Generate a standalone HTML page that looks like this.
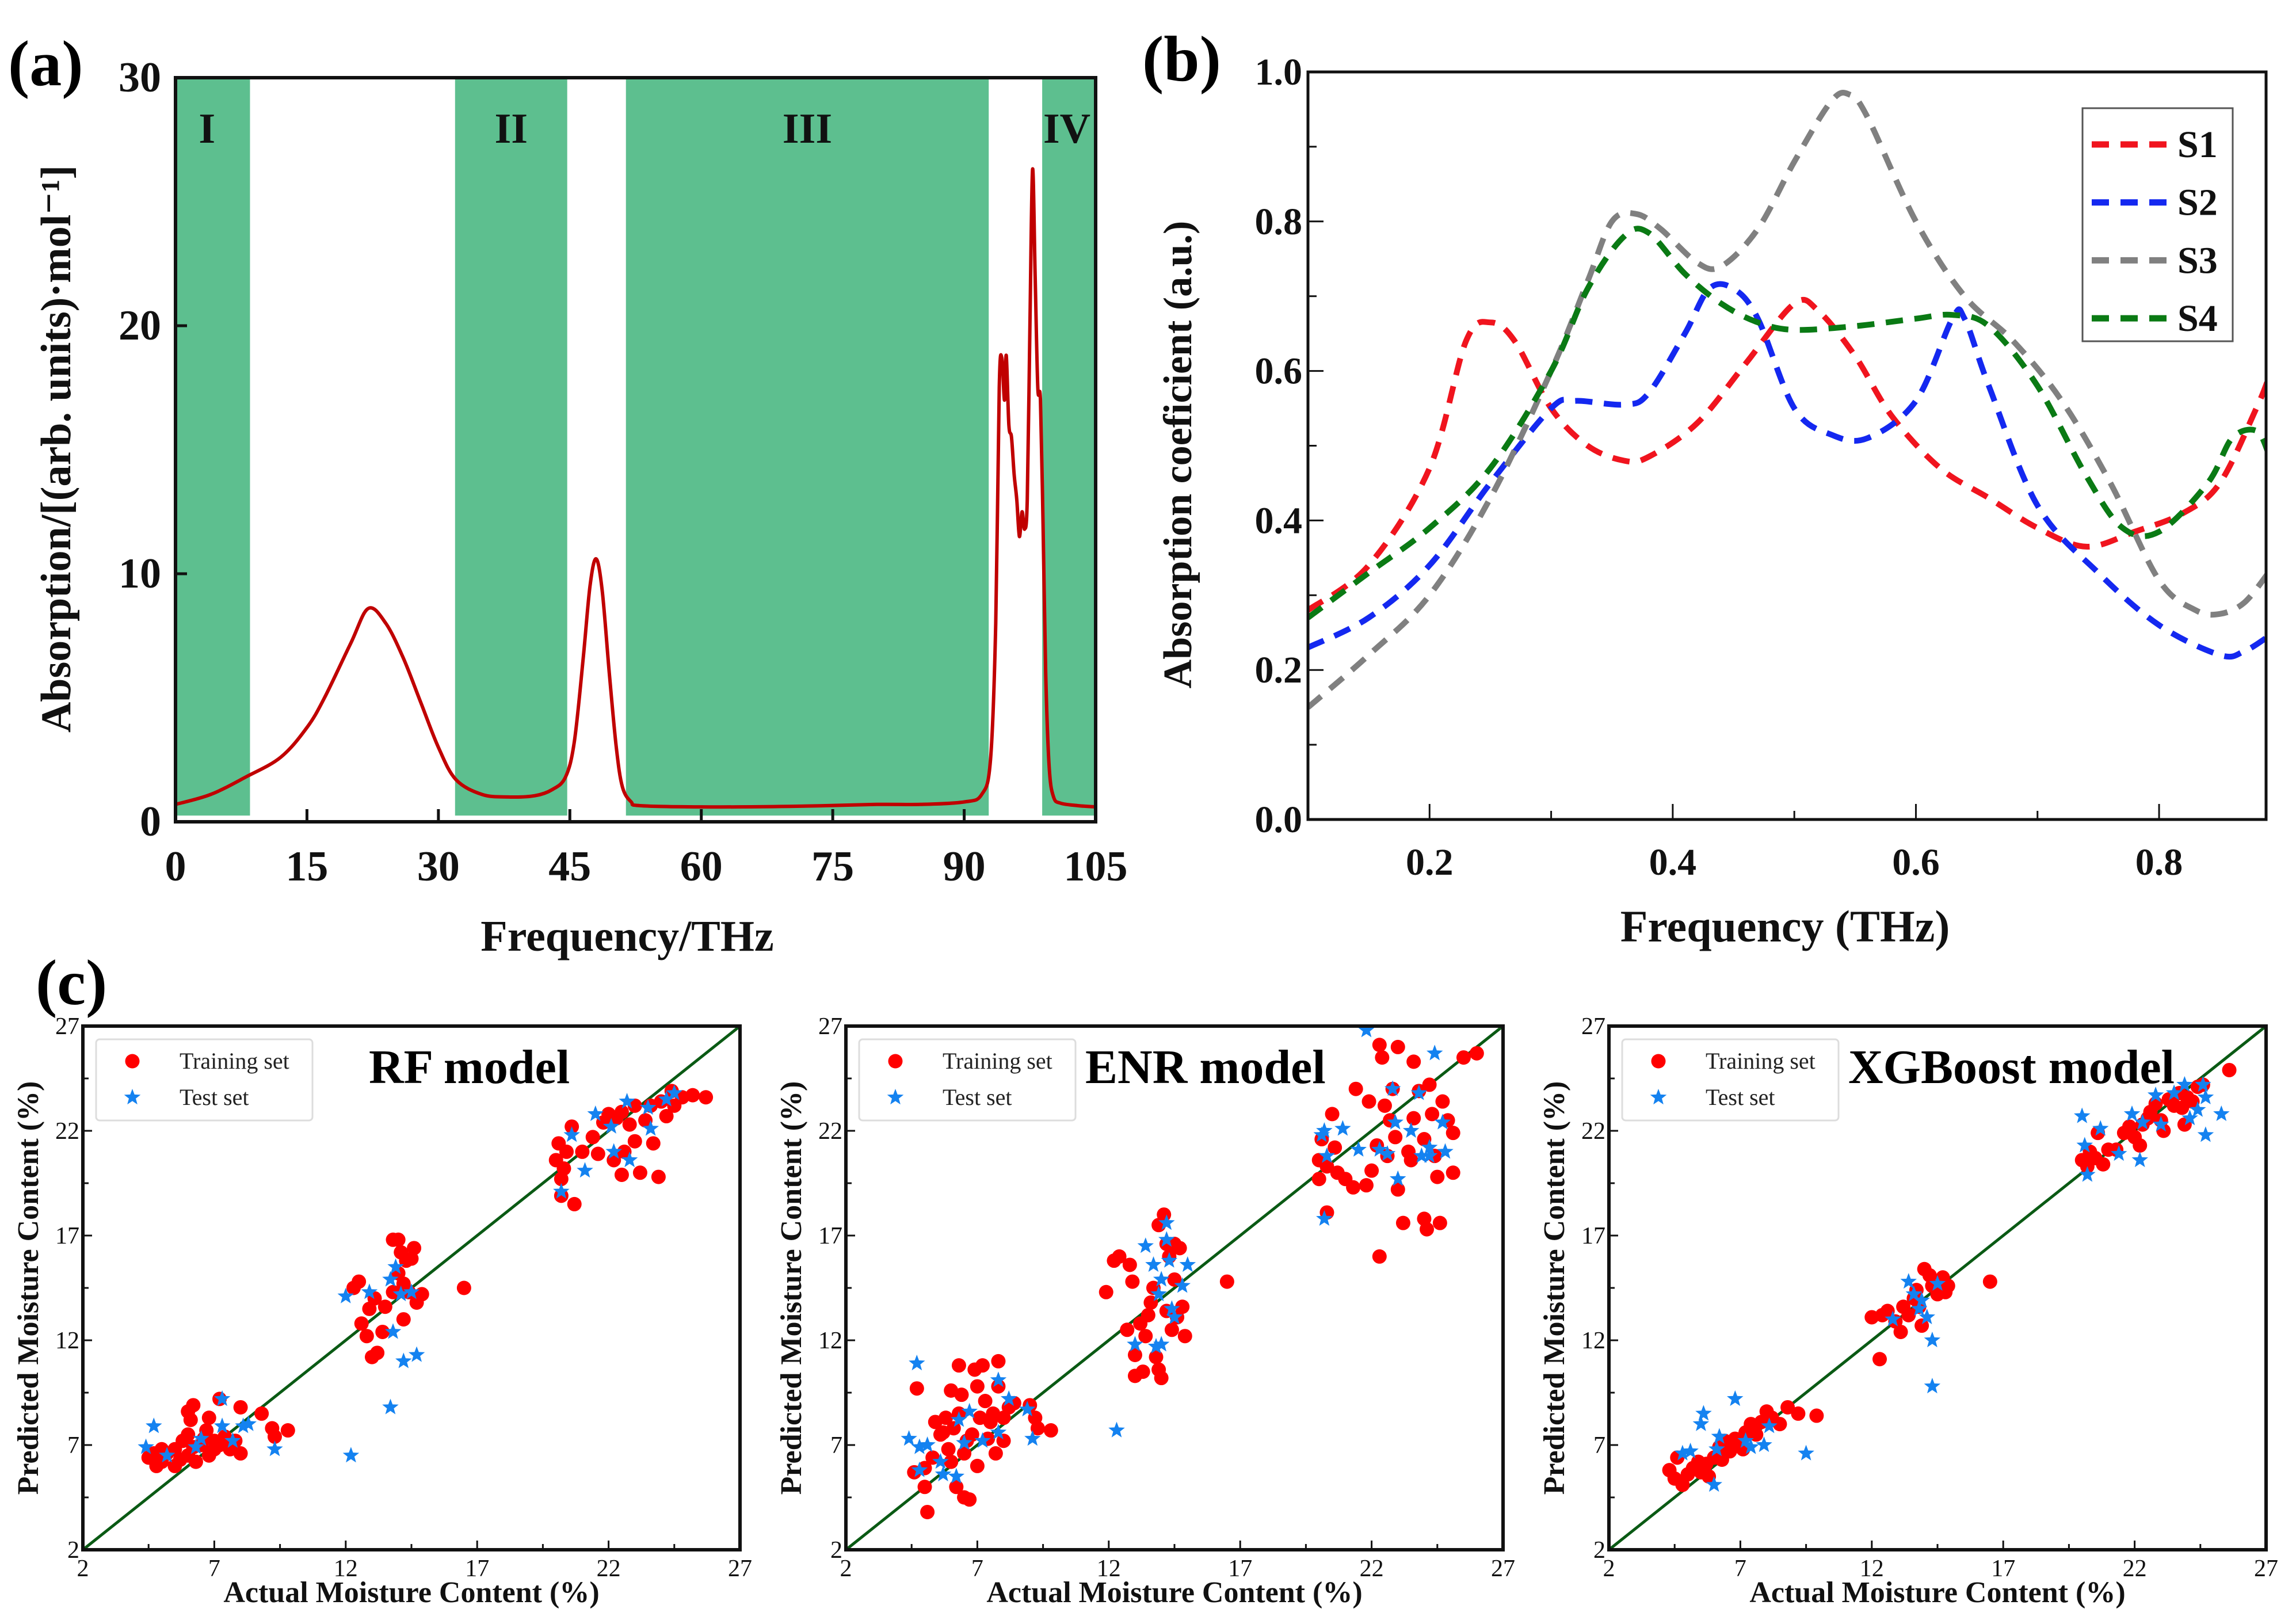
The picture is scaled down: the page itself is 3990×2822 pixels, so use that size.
<!DOCTYPE html>
<html><head><meta charset="utf-8">
<style>
html,body{margin:0;padding:0;background:#fff;}
svg{display:block;font-family:"Liberation Serif","DejaVu Serif",serif;}
svg text{font-family:"Liberation Serif","DejaVu Serif",serif;}
</style></head>
<body>
<svg id="fig" width="3990" height="2822" viewBox="0 0 3990 2822" xmlns="http://www.w3.org/2000/svg" font-family="Liberation Serif, serif">
<g id="pa"></g>
<g id="pb"></g>
<g id="pc"></g>
</svg>
<script>
// ---------- Panel (a) data ----------
const aFreq = [0,4,8,12,15,17,20,22,24,26,28,30,32,35,38,41,43,44.5,45.5,46.5,47.3,48,48.7,49.5,50.3,51,52,53,60,70,80,85,90,92,93,93.6,94,94.3,94.6,94.8,95.1,95.4,95.7,96,96.3,96.6,96.9,97.2,97.5,97.8,98.1,98.4,98.7,99,99.3,99.7,100.2,101,103,105];
const aAbs  = [0.7,1.1,1.8,2.6,3.8,5,7.2,8.6,8,6.6,4.8,3,1.7,1.1,1.0,1.05,1.3,1.8,3.2,6.5,9.5,10.6,9.3,6,3,1.4,0.8,0.65,0.6,0.62,0.7,0.7,0.8,1.1,2.5,8,17.5,18.7,17,18.8,16,15.5,14,13,11.5,12.5,11.8,13,20,26.3,22,17.5,17,12,6,2.2,1.0,0.75,0.65,0.6];
const aBandStart = [0,31.9,51.4,98.9];
const aBandEnd   = [8.5,44.7,92.8,105];
const aBandLabels = ["I","II","III","IV"];
const aXTicks = [0,15,30,45,60,75,90,105];
const aYTicks = [0,10,20,30];

// ---------- Panel (b) data ----------
const bS1x = [0.1,0.15,0.2,0.23,0.25,0.27,0.3,0.33,0.36,0.38,0.42,0.46,0.5,0.52,0.55,0.58,0.62,0.66,0.7,0.74,0.78,0.82,0.85,0.88,0.89];
const bS1y = [0.28,0.34,0.47,0.64,0.665,0.64,0.55,0.5,0.48,0.485,0.53,0.61,0.69,0.68,0.62,0.54,0.47,0.43,0.39,0.365,0.385,0.41,0.45,0.55,0.59];
const bS2x = [0.1,0.15,0.2,0.25,0.3,0.32,0.36,0.38,0.41,0.43,0.45,0.47,0.5,0.53,0.56,0.6,0.63,0.64,0.66,0.7,0.75,0.8,0.85,0.87,0.89];
const bS2y = [0.23,0.27,0.34,0.45,0.55,0.56,0.555,0.57,0.65,0.71,0.71,0.67,0.55,0.515,0.51,0.56,0.67,0.67,0.58,0.42,0.33,0.26,0.22,0.225,0.245];
const bS3x = [0.1,0.15,0.2,0.25,0.3,0.33,0.35,0.37,0.39,0.42,0.44,0.47,0.5,0.53,0.545,0.56,0.6,0.64,0.68,0.72,0.76,0.8,0.83,0.85,0.87,0.89];
const bS3y = [0.15,0.22,0.3,0.43,0.6,0.72,0.8,0.81,0.79,0.745,0.74,0.79,0.88,0.96,0.97,0.94,0.8,0.7,0.64,0.56,0.45,0.32,0.28,0.275,0.29,0.33];
const bS4x = [0.1,0.15,0.2,0.25,0.3,0.33,0.36,0.38,0.41,0.44,0.47,0.5,0.55,0.6,0.63,0.66,0.7,0.74,0.77,0.8,0.84,0.86,0.88,0.89];
const bS4y = [0.27,0.33,0.39,0.47,0.6,0.71,0.78,0.785,0.73,0.69,0.665,0.655,0.66,0.67,0.675,0.66,0.58,0.46,0.39,0.385,0.45,0.51,0.52,0.49];
const bSeriesNames = ["S1","S2","S3","S4"];
const bXTicks = [0.2,0.4,0.6,0.8];
const bYTicks = [0.0,0.2,0.4,0.6,0.8,1.0];

// ---------- Panel (c) data: [actual, predicted] ----------
const rfTrain = [[4.5,6.4],[4.8,6],[5,6.2],[5.2,6.6],[5.5,6.8],[5.5,6],[5.8,7.2],[6,6.5],[6,7.5],[6.2,6.9],[6.3,6.2],[6.5,7],[6.6,7.3],[6.8,6.5],[7,6.8],[7,7.2],[7.2,7],[7.4,7.4],[7.6,6.8],[7.8,7.2],[8,6.6],[6,8.6],[6.2,8.9],[6.1,8.2],[6.8,8.3],[7.2,9.2],[8,8.8],[8.8,8.5],[9.2,7.8],[9.3,7.4],[9.8,7.7],[6.7,7.7],[5,6.8],[4.7,6.6],[5.7,6.3],
[12.3,14.5],[12.5,14.8],[12.6,12.8],[12.8,12.2],[13,11.2],[13.2,11.4],[12.9,13.5],[13.1,14],[13.5,13.6],[13.4,12.4],[13.8,16.8],[14,16.8],[14.1,16.2],[14.3,15.8],[14.5,15.9],[14.6,16.4],[14,15.2],[14.2,13],[14.4,14.3],[14.7,13.8],[14.9,14.2],[13.8,14.3],[14.2,14.7],[16.5,14.5],
[20.1,21.4],[20,20.6],[20.3,20.2],[20.4,21],[20.2,19.7],[20.2,18.9],[20.7,18.5],[20.6,22.2],[21,21],[21.4,21.7],[21.6,20.9],[21.8,22.4],[22,22.8],[22.3,22.6],[22.2,20.6],[22.5,19.9],[22.6,21],[22.8,22.3],[23,21.5],[23.2,20],[23.4,22.5],[23.6,23.2],[23.7,21.4],[23.9,19.8],[24,23.4],[24.2,22.7],[24.5,23.2],[24.8,23.6],[25.2,23.7],[25.7,23.6],[23,23.2],[22.5,22.9],[24.4,23.9]];
const rfTest = [[4.4,6.9],[4.7,7.9],[5.2,6.5],[6.3,6.9],[6.5,7.3],[7.3,9.2],[7.3,7.9],[7.7,7.2],[8.1,7.9],[8.3,8.0],[9.3,6.8],[12,14.1],[12.2,6.5],[12.9,14.3],[13.7,14.9],[13.9,15.5],[14.1,14.2],[13.8,12.4],[13.7,8.8],[14.2,11],[14.7,11.3],[14.5,14.3],[20.2,19.1],[20.6,21.8],[21.1,20.1],[21.5,22.8],[22.1,22.2],[22.2,21],[22.7,23.4],[22.8,20.6],[23.6,22.1],[23.5,23.1],[24.2,23.5],[24.5,23.8]];
const enrTrain = [[4.6,5.7],[4.7,9.7],[5,5.9],[5,5],[5.1,3.8],[5.3,6.4],[5.4,8.1],[5.6,7.5],[5.8,8.3],[5.9,6.8],[6,9.6],[6,6.2],[6.1,7.8],[6.2,5],[6.3,10.8],[6.3,8.5],[6.4,9.4],[6.5,4.5],[6.5,6.6],[6.7,4.4],[6.8,7.5],[6.9,10.6],[7,9.8],[7,6],[7.1,8.3],[7.2,10.8],[7.3,9.1],[7.4,7.3],[7.6,8.5],[7.7,6.6],[7.8,9.8],[7.8,11],[8,8.3],[8,7.2],[8.2,8.8],[8.4,9],[9,8.9],[9.2,8.3],[9.3,7.8],[9.8,7.7],[5.7,7.6],[6.6,7.2],[7.5,8.1],
[11.9,14.3],[12.2,15.8],[12.4,16],[12.8,15.6],[12.9,14.8],[12.7,12.5],[13,11.3],[13,10.3],[13.3,10.5],[13.2,12.8],[13.5,13.2],[13.6,13.8],[13.4,12.2],[13.8,11.2],[13.9,10.6],[14,10.2],[13.9,17.5],[14.1,18],[14.2,16.6],[14.3,16],[14.5,16.6],[14.7,16.4],[14.5,14.9],[14.2,13.4],[14.6,13.1],[14.8,13.6],[14.9,12.2],[14.4,12.5],[13.7,14.5],[16.5,14.8],
[20,19.7],[20,20.6],[20.1,21.6],[20.3,20.3],[20.3,18.1],[20.5,22.8],[20.6,21.2],[20.7,20],[21,19.7],[21.3,19.3],[21.4,24],[21.8,19.4],[21.9,23.4],[22,20.1],[22.2,21.3],[22.3,16],[22.3,26.1],[22.4,25.5],[22.5,23.2],[22.7,22.5],[22.8,24],[22.9,21.7],[23,19.2],[23,26],[23.2,17.6],[23.4,21],[23.6,22.6],[23.6,25.3],[23.8,23.9],[24,17.8],[24,21.6],[24.1,17.3],[24.2,24.2],[24.3,22.8],[24.4,20.8],[24.5,19.8],[24.6,17.6],[24.7,23.4],[24.9,22.5],[25.1,21.9],[25.1,20],[25.5,25.5],[26,25.7],[23.5,20.6],[22.6,20.8]];
const enrTest = [[4.4,7.3],[4.7,10.9],[4.8,5.8],[4.8,6.9],[5.1,7],[5.6,6.2],[5.7,5.6],[6.2,5.5],[6.3,8.2],[6.7,8.6],[6.5,7.1],[7.2,7.2],[7.8,10.1],[8.2,9.2],[8.9,8.7],[9.1,7.3],[7.8,7.6],[12.3,7.7],[13,11.8],[13.4,16.5],[13.7,15.6],[13.8,11.7],[14,11.8],[14,14.9],[14.2,17.6],[14.2,16.8],[14.3,15.8],[14.4,13.5],[14.5,13.1],[14.8,14.6],[15,15.6],[13.9,14.2],[20.1,21.8],[20.2,22],[20.3,20.8],[20.2,17.8],[20.9,22.1],[21.5,21.1],[21.8,26.8],[22.3,21.1],[22.6,20.9],[22.8,24],[22.9,22.4],[23,19.7],[23.5,22],[23.8,23.8],[23.9,20.8],[24.2,20.8],[24.2,21.2],[24.4,25.7],[24.7,22.4],[24.8,21]];
const xgbTrain = [[4.3,5.8],[4.5,5.4],[4.6,6.4],[4.8,5.1],[5,5.6],[5.2,5.9],[5.5,5.7],[5.7,6.1],[5.8,5.5],[6,6.4],[6.2,6.9],[6.4,7.2],[6.6,6.7],[6.8,7.3],[7,7],[7.2,7.6],[7.4,8],[7.6,7.5],[7.8,8.1],[8,8.6],[8.2,8.3],[8.5,8],[8.8,8.8],[9.2,8.5],[9.9,8.4],[5.4,6.2],[6.3,6.3],[7.1,6.8],
[12,13.1],[12.3,11.1],[12.4,13.2],[12.6,13.4],[12.9,12.9],[13.1,12.4],[13.2,13.6],[13.4,13.2],[13.6,14],[13.8,13.6],[13.9,12.7],[14,15.4],[14.2,15.1],[14.3,14.6],[14.5,14.2],[14.7,15],[14.8,14.3],[14.9,14.6],[13.7,14.4],[16.5,14.8],
[20,20.6],[20.2,20.3],[20.3,21],[20.5,20.7],[20.6,21.9],[20.8,20.4],[21,21.1],[21.3,21.1],[21.6,21.9],[21.8,22.2],[22,21.7],[22.2,21.3],[22.3,22.3],[22.6,22.9],[22.8,23.3],[23,22.5],[23.1,22],[23.3,23.5],[23.5,23.2],[23.7,23.8],[23.9,22.3],[24,23.6],[24.2,23.4],[24.4,24.1],[24.6,24.2],[25.6,24.9],[22.5,22.6],[23.8,23.1]];
const xgbTest = [[4.8,6.6],[5.1,6.7],[5.5,8],[5.6,8.5],[6,5.1],[6.1,6.8],[6.2,7.4],[6.8,9.2],[7.2,7.2],[7.4,6.9],[7.9,7],[8.1,7.9],[9.5,6.6],[12.8,13],[13.4,14.8],[13.6,14.2],[13.9,13.9],[14.1,13.1],[14.3,12],[14.3,9.8],[14.5,14.7],[13.8,13.5],[20,22.7],[20.1,21.3],[20.2,19.9],[20.7,22.1],[21.4,20.9],[21.9,22.8],[22.2,20.6],[22.3,22.4],[22.8,23.7],[23,22.3],[23.5,23.8],[23.9,24.2],[24.1,22.6],[24.4,23],[24.7,23.6],[24.7,21.8],[25.3,22.8],[24.6,24.2]];
const cTicks = [2,7,12,17,22,27];
const cTitles = ["RF model","ENR model","XGBoost model"];

const NS = "http://www.w3.org/2000/svg";
const FF = "Liberation Serif, DejaVu Serif, serif";
function mk(parent, tag, attrs, txt){
  const e = document.createElementNS(NS, tag);
  for (const k in attrs) e.setAttribute(k, attrs[k]);
  if (tag === 'text') e.setAttribute('font-family', FF);
  if (txt !== undefined) e.textContent = txt;
  parent.appendChild(e);
  return e;
}
function lin(d0,d1,r0,r1){ return v => r0 + (v-d0)/(d1-d0)*(r1-r0); }
function smoothPath(px){
  let d = "M"+px[0][0].toFixed(1)+","+px[0][1].toFixed(1);
  for (let i=0;i<px.length-1;i++){
    const p0=px[Math.max(0,i-1)], p1=px[i], p2=px[i+1], p3=px[Math.min(px.length-1,i+2)];
    const c1=[p1[0]+(p2[0]-p0[0])/6, p1[1]+(p2[1]-p0[1])/6];
    const c2=[p2[0]-(p3[0]-p1[0])/6, p2[1]-(p3[1]-p1[1])/6];
    d += " C"+c1[0].toFixed(1)+","+c1[1].toFixed(1)+" "+c2[0].toFixed(1)+","+c2[1].toFixed(1)+" "+p2[0].toFixed(1)+","+p2[1].toFixed(1);
  }
  return d;
}

// ===== Panel A =====
(function(){
  const g = document.getElementById('pa');
  const L=305,R=1904,T=135,B=1428;
  const x = lin(0,105,L,R), y = lin(0,30,B,T);
  for (let i=0;i<aBandStart.length;i++){
    const r = mk(g,'rect',{x:x(aBandStart[i]),y:T,width:x(aBandEnd[i])-x(aBandStart[i]),height:y(0.25)-T,fill:'#5dbf8f'});
    
    
    const t = mk(g,'text',{x:(x(aBandStart[i])+x(Math.min(aBandEnd[i],104)))/2+(i==3?4:(i==0?-10:0)),y:248,'font-size':74,'font-weight':'bold','text-anchor':'middle',fill:'#111'},aBandLabels[i]);
    
    
  }
  const pts = aFreq.map((f,i)=>[x(f),y(aAbs[i])]);
  const line = mk(g,'path',{d:smoothPath(pts),fill:'none',stroke:'#c00000','stroke-width':6,'stroke-linejoin':'round'});
  
  
  const fr = mk(g,'rect',{x:L,y:T,width:R-L,height:B-T,fill:'none',stroke:'#111','stroke-width':6});
  
  
  aXTicks.forEach(v=>{
    mk(g,'line',{x1:x(v),x2:x(v),y1:B,y2:B-22,stroke:'#111','stroke-width':5});
    const t = mk(g,'text',{x:x(v),y:1530,'font-size':74,'text-anchor':'middle','font-weight':'bold',fill:'#111'},String(v));
    
    
  });
  aYTicks.forEach(v=>{
    mk(g,'line',{x1:L,x2:L+20,y1:y(v),y2:y(v),stroke:'#111','stroke-width':5});
    const t = mk(g,'text',{x:L-25,y:y(v)+24,'font-size':74,'text-anchor':'end','font-weight':'bold',fill:'#111'},String(v));
    
    
  });
  const xt = mk(g,'text',{x:1090,y:1652,'font-size':76,'text-anchor':'middle','font-weight':'bold',fill:'#111'},'Frequency/THz');
  
  
  const yt = mk(g,'text',{x:0,y:0,'font-size':74,'text-anchor':'middle','font-weight':'bold',fill:'#111',transform:'translate(122,780) rotate(-90)'},'Absorption/[(arb. units)·mol⁻¹]');
  
  
  const pl = mk(g,'text',{x:14,y:148,'font-size':112,'font-weight':'bold',fill:'#000'},'(a)');
  
  
})();

// ===== Panel B =====
(function(){
  const g = document.getElementById('pb');
  const L=2273,R=3938,T=125,B=1424;
  const x = lin(0.1,0.888,L,R), y = lin(0,1,B,T);
  const cols = ['#f0141e','#1428f0','#808080','#0a7a14'];
  const xs=[bS1x,bS2x,bS3x,bS4x], ys=[bS1y,bS2y,bS3y,bS4y];
  const clip = mk(g,'clipPath',{id:'clipb'}); mk(clip,'rect',{x:L,y:T,width:R-L,height:B-T});
  xs.forEach((xa,k)=>{
    const pts = xa.map((v,i)=>[x(v),y(ys[k][i])]);
    const p = mk(g,'path',{d:smoothPath(pts),fill:'none',stroke:cols[k],'stroke-width':10,'stroke-dasharray':'30 20','clip-path':'url(#clipb)'});
    
    
  });
  const fr = mk(g,'rect',{x:L,y:T,width:R-L,height:B-T,fill:'none',stroke:'#111','stroke-width':5});
  
  
  [0.2,0.3,0.4,0.5,0.6,0.7,0.8].forEach((v,i)=>{
    mk(g,'line',{x1:x(v),x2:x(v),y1:B,y2:B-(i%2?15:27),stroke:'#111','stroke-width':3});
  });
  [0.1,0.2,0.3,0.4,0.5,0.6,0.7,0.8,0.9].forEach((v,i)=>{
    mk(g,'line',{x1:L,x2:L+(i%2?27:15),y1:y(v),y2:y(v),stroke:'#111','stroke-width':3});
  });
  bXTicks.forEach(v=>{
    const t = mk(g,'text',{x:x(v),y:1520,'font-size':66,'text-anchor':'middle','font-weight':'bold',fill:'#111'},v.toFixed(1));
    
    
  });
  bYTicks.forEach(v=>{
    const t = mk(g,'text',{x:L-10,y:y(v)+22,'font-size':66,'text-anchor':'end','font-weight':'bold',fill:'#111'},v.toFixed(1));
    
    
  });
  const xt = mk(g,'text',{x:3102,y:1636,'font-size':78,'text-anchor':'middle','font-weight':'bold',fill:'#111'},'Frequency (THz)');
  
  
  const yt = mk(g,'text',{x:0,y:0,'font-size':70,'text-anchor':'middle','font-weight':'bold',fill:'#111',transform:'translate(2070,790) rotate(-90)'},'Absorption coeficient (a.u.)');
  
  
  const lg = mk(g,'g',{});
  
  
  mk(lg,'rect',{x:3619,y:188,width:261,height:405,fill:'#fff',stroke:'#555','stroke-width':3});
  bSeriesNames.forEach((n,k)=>{
    const yy = 251+k*100.7;
    const e = mk(lg,'g',{});
    
    
    mk(e,'line',{x1:3635,x2:3769,y1:yy,y2:yy,stroke:cols[k],'stroke-width':11,'stroke-dasharray':'30 20'});
    mk(e,'text',{x:3784,y:yy+22,'font-size':66,'font-weight':'bold',fill:'#111'},n);
  });
  const pl = mk(g,'text',{x:1985,y:140,'font-size':112,'font-weight':'bold',fill:'#000'},'(b)');
  
  
})();

// ===== Panel C =====
(function(){
  const g = document.getElementById('pc');
  const lefts=[144,1470,2796], W=1142, T=1783, B=2693;
  const trains=[rfTrain,enrTrain,xgbTrain], tests=[rfTest,enrTest,xgbTest];
  const keys=['rf','enr','xgboost'];
  function star(cx,cy,r){
    let d='';
    for(let i=0;i<10;i++){
      const a=-Math.PI/2+i*Math.PI/5, rr=i%2?r*0.42:r;
      d+=(i?'L':'M')+(cx+rr*Math.cos(a)).toFixed(1)+','+(cy+rr*Math.sin(a)).toFixed(1);
    }
    return d+'Z';
  }
  lefts.forEach((L,k)=>{
    const R=L+W;
    const sub = mk(g,'g',{});
    
    
    const x=lin(2,27,L,R), y=lin(2,27,B,T);
    const cid='clipc'+k;
    const cp=mk(sub,'clipPath',{id:cid}); mk(cp,'rect',{x:L,y:T,width:W,height:B-T});
    const dl = mk(sub,'line',{x1:x(2),y1:y(2),x2:x(27),y2:y(27),stroke:'#0a5a14','stroke-width':5});
    
    
    trains[k].forEach(p=>{
      const c = mk(sub,'circle',{cx:x(p[0]),cy:y(p[1]),r:12.5,fill:'#ff0000','clip-path':'url(#'+cid+')'});
      
      
    });
    tests[k].forEach(p=>{
      const s = mk(sub,'path',{d:star(x(p[0]),y(p[1]),15),fill:'#1482f0','clip-path':'url(#'+cid+')'});
      
      
    });
    const fr = mk(sub,'rect',{x:L,y:T,width:W,height:B-T,fill:'none',stroke:'#111','stroke-width':6});
    
    
    [4.5,7,9.5,12,14.5,17,19.5,22,24.5].forEach((v,i)=>{
      mk(sub,'line',{x1:x(v),x2:x(v),y1:B,y2:B-(i%2?16:10),stroke:'#111','stroke-width':3});
      mk(sub,'line',{x1:L,x2:L+(i%2?16:10),y1:y(v),y2:y(v),stroke:'#111','stroke-width':3});
    });
    cTicks.forEach(v=>{
      const tx = mk(sub,'text',{x:x(v),y:B+46,'font-size':42,'text-anchor':'middle',fill:'#111'},String(v));
      
      
      const ty = mk(sub,'text',{x:L-6,y:y(v)+14,'font-size':42,'text-anchor':'end',fill:'#111'},String(v));
      
      
    });
    const xt = mk(sub,'text',{x:L+W/2,y:2784,'font-size':52,'text-anchor':'middle','font-weight':'bold',fill:'#111'},'Actual Moisture Content (%)');
    
    
    const yt = mk(sub,'text',{x:0,y:0,'font-size':52,'text-anchor':'middle','font-weight':'bold',fill:'#111',transform:'translate('+(L-78)+','+(T+B)/2+') rotate(-90)'},'Predicted Moisture Content (%)');
    
    
    const lg = mk(sub,'g',{});
    
    
    mk(lg,'rect',{x:L+23,y:1806,width:376,height:141,fill:'#fff',stroke:'#ddd','stroke-width':3,rx:6});
    mk(lg,'circle',{cx:L+86,cy:1844,r:12.5,fill:'#ff0000'});
    mk(lg,'text',{x:L+168,y:1857,'font-size':40,fill:'#222'},'Training set');
    mk(lg,'path',{d:star(L+86,1907,15),fill:'#1482f0'});
    mk(lg,'text',{x:L+168,y:1920,'font-size':40,fill:'#222'},'Test set');
    const tt = mk(sub,'text',{x:L+(k==0?497:416),y:1882,'font-size':84,'font-weight':'bold',fill:'#000'},cTitles[k]);
    
    
  });
  const pl = mk(g,'text',{x:62,y:1745,'font-size':112,'font-weight':'bold',fill:'#000'},'(c)');
  
  
})();
</script>
</body></html>
